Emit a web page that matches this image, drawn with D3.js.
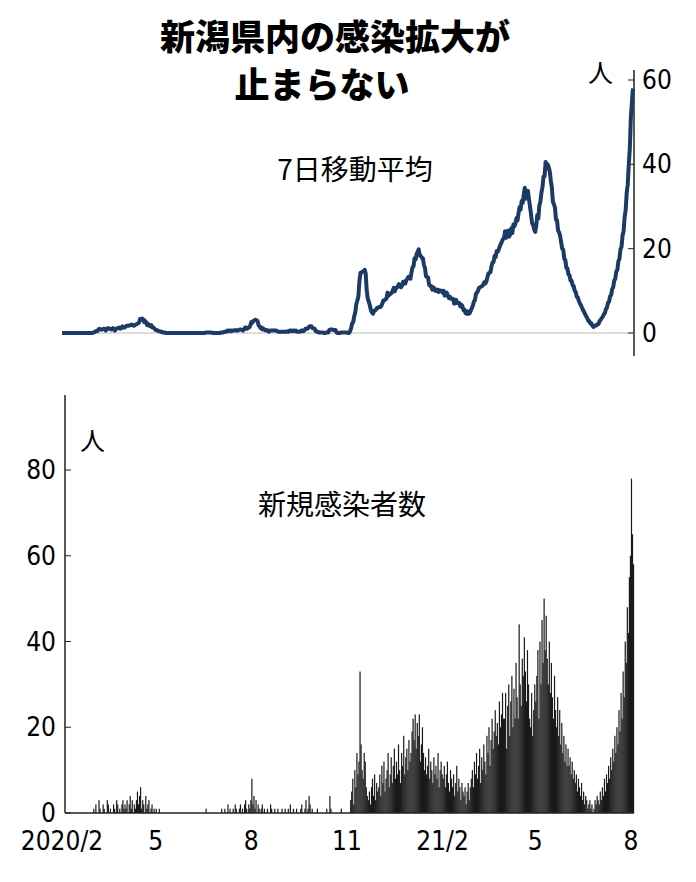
<!DOCTYPE html>
<html><head><meta charset="utf-8">
<script src="https://cdn.jsdelivr.net/npm/d3@7"></script>
<style>body{margin:0;background:#fff}</style>
</head><body>
<svg id="canvas"></svg>
<script>
let width=696, height=882

// daily new cases, one string per month, starting 2020/2/1
const months = [
  "0 0 0 0 0 0 0 0 0 0 0 0 0 0 0 0 0 0 0 0 0 0 0 0 0 0 0 0 0",
  "0 1 0 2 0 0 3 1 0 0 2 1 0 0 3 2 0 1 0 0 2 1 0 3 2 0 1 0 2 3 1",
  "2 1 3 0 2 4 1 3 0 2 1 3 5 2 4 6 1 3 2 0 4 1 2 3 0 1 2 0 1 0",
  "1 0 0 1 0 0 0 0 0 0 0 0 0 0 0 0 0 0 0 0 0 0 0 0 0 0 0 0 0 0 0",
  "0 0 0 0 0 0 0 0 0 0 0 0 0 0 0 0 0 1 0 0 0 0 0 0 0 0 0 0 0 0",
  "0 0 1 0 0 1 0 0 2 0 1 0 0 1 0 2 1 0 0 1 2 0 1 0 2 3 1 0 2 1 3",
  "8 2 4 1 3 0 2 1 0 1 2 0 1 0 0 1 0 0 2 1 0 0 1 0 0 1 0 0 0 1 0",
  "0 1 0 0 1 0 2 0 0 1 0 0 1 0 0 0 1 2 0 0 1 3 0 1 4 2 0 1 0 0",
  "0 0 1 0 0 0 0 0 0 0 0 1 0 0 4 1 0 0 0 0 0 0 0 0 0 1 0 0 0 0 0",
  "0 0 0 3 5 8 2 10 6 14 9 12 33 16 10 8 14 12 6 4 3 5 2 6 8 4 9 3 7 5",
  "6 9 4 11 7 12 5 8 10 14 6 9 13 7 11 15 8 12 9 16 10 7 14 11 18 9 13 15 10 17 12",
  "14 19 22 17 23 15 21 18 23 12 16 20 14 10 13 9 11 15 8 12 10 7 13 9 11 8 14 6 10 12 9",
  "8 11 6 9 12 7 5 10 8 6 9 4 7 11 5 8 6 3 7 5 4 6 2 5 7 3 6 8",
  "10 6 12 9 14 8 11 15 7 13 10 16 12 9 18 14 20 11 17 22 15 19 24 18 21 16 26 20 23 28 22",
  "22 28 15 25 30 18 26 32 20 29 22 35 27 22 44 30 25 36 32 41 33 26 38 30 22 20 28 18 24 30",
  "26 32 38 22 40 30 45 35 50 38 46 36 30 40 28 35 27 22 32 24 20 27 18 24 16 21 14 18 12 16 11",
  "15 11 13 9 12 8 10 7 9 5 8 6 4 7 3 5 2 4 3 1 2 3 1 2 0 1 3 2 4 3",
  "2 5 3 6 4 8 5 9 7 11 8 13 10 15 12 18 14 20 16 24 19 28 22 33 27 40 35 48 42 55 60",
  "78 65 58"
]
const lineTicks = [0, 20, 40, 60]
const barTicks = [0, 20, 40, 60, 80]
const xTicks = [["2020-02-01","2020/2"],["2020-05-01","5"],["2020-08-01","8"],["2020-11-01","11"],["2021-02-01","21/2"],["2021-05-01","5"],["2021-08-01","8"]]

let counts = months.join(" ").split(" ").map(Number)
let start = new Date(2020,1,1)
let daily = counts.map((v,i)=>({date:d3.timeDay.offset(start,i), v:v}))
daily.forEach((d,i)=>{
  let w = daily.slice(Math.max(0,i-6), i+1)
  d.avg = d3.mean(w, e=>e.v)
})

let svg = d3.select('#canvas').attr("width",width).attr("height",height)
const num = "'Liberation Sans Narrow','DejaVu Sans Condensed',sans-serif"
const cjk = "'Noto Sans CJK JP',sans-serif"

let x = d3.scaleTime().domain([start, d3.timeDay.offset(start, counts.length)]).range([62, 634])

// title
svg.append("text").attr("x",335).attr("y",50).attr("text-anchor","middle")
  .style("font-family",cjk).style("font-weight",900).style("font-size","35px").text("新潟県内の感染拡大が")
svg.append("text").attr("x",322).attr("y",98).attr("text-anchor","middle")
  .style("font-family",cjk).style("font-weight",900).style("font-size","35px").text("止まらない")

// top: 7-day average
let yTop = d3.scaleLinear().domain([0,60]).range([333,80])
svg.append("line").attr("x1",634).attr("x2",634).attr("y1",70).attr("y2",356).attr("stroke","#222").attr("stroke-width",1.5)
svg.append("line").attr("x1",62).attr("x2",634).attr("y1",yTop(0)).attr("y2",yTop(0)).attr("stroke","#bbb")
svg.selectAll(".tt").data(lineTicks).enter().append("text")
  .attr("x",642).attr("y",d=>yTop(d)+9).style("font-family",num).style("font-size","26px").text(d=>d)
svg.selectAll(".tl").data(lineTicks).enter().append("line")
  .attr("x1",628).attr("x2",634).attr("y1",d=>yTop(d)).attr("y2",d=>yTop(d)).attr("stroke","#222")
svg.append("text").attr("x",588).attr("y",82).style("font-family",cjk).style("font-size","25px").text("人")
svg.append("text").attr("x",355).attr("y",180).attr("text-anchor","middle")
  .style("font-family",cjk).style("font-size","28px").text("7日移動平均")
svg.append("path").datum(daily)
  .attr("d", d3.line().x(d=>x(d.date)).y(d=>yTop(d.avg)))
  .attr("fill","none").attr("stroke","#1d3a66").attr("stroke-width",4).attr("stroke-linejoin","round")

// bottom: daily new cases
let yBot = d3.scaleLinear().domain([0,80]).range([813,470])
svg.selectAll(".bar").data(daily).enter().append("rect")
  .attr("x",d=>x(d.date)).attr("width",1.2)
  .attr("y",d=>yBot(d.v)).attr("height",d=>yBot(0)-yBot(d.v)).attr("fill","#1a1a1a")
svg.append("line").attr("x1",65).attr("x2",65).attr("y1",395).attr("y2",813).attr("stroke","#222").attr("stroke-width",1.5)
svg.append("line").attr("x1",65).attr("x2",634).attr("y1",813).attr("y2",813).attr("stroke","#222").attr("stroke-width",1.5)
svg.selectAll(".bt").data(barTicks).enter().append("text")
  .attr("x",56).attr("y",d=>yBot(d)+9).attr("text-anchor","end")
  .style("font-family",num).style("font-size","26px").text(d=>d)
svg.selectAll(".bl").data(barTicks).enter().append("line")
  .attr("x1",65).attr("x2",71).attr("y1",d=>yBot(d)).attr("y2",d=>yBot(d)).attr("stroke","#222")
svg.append("text").attr("x",80).attr("y",450).style("font-family",cjk).style("font-size","25px").text("人")
svg.append("text").attr("x",342).attr("y",515).attr("text-anchor","middle")
  .style("font-family",cjk).style("font-size","28px").text("新規感染者数")
svg.selectAll(".xt").data(xTicks).enter().append("text")
  .attr("x",d=>x(new Date(d[0]+"T00:00"))).attr("y",850).attr("text-anchor","middle")
  .style("font-family",num).style("font-size","26px").text(d=>d[1])
</script>
</body></html>
